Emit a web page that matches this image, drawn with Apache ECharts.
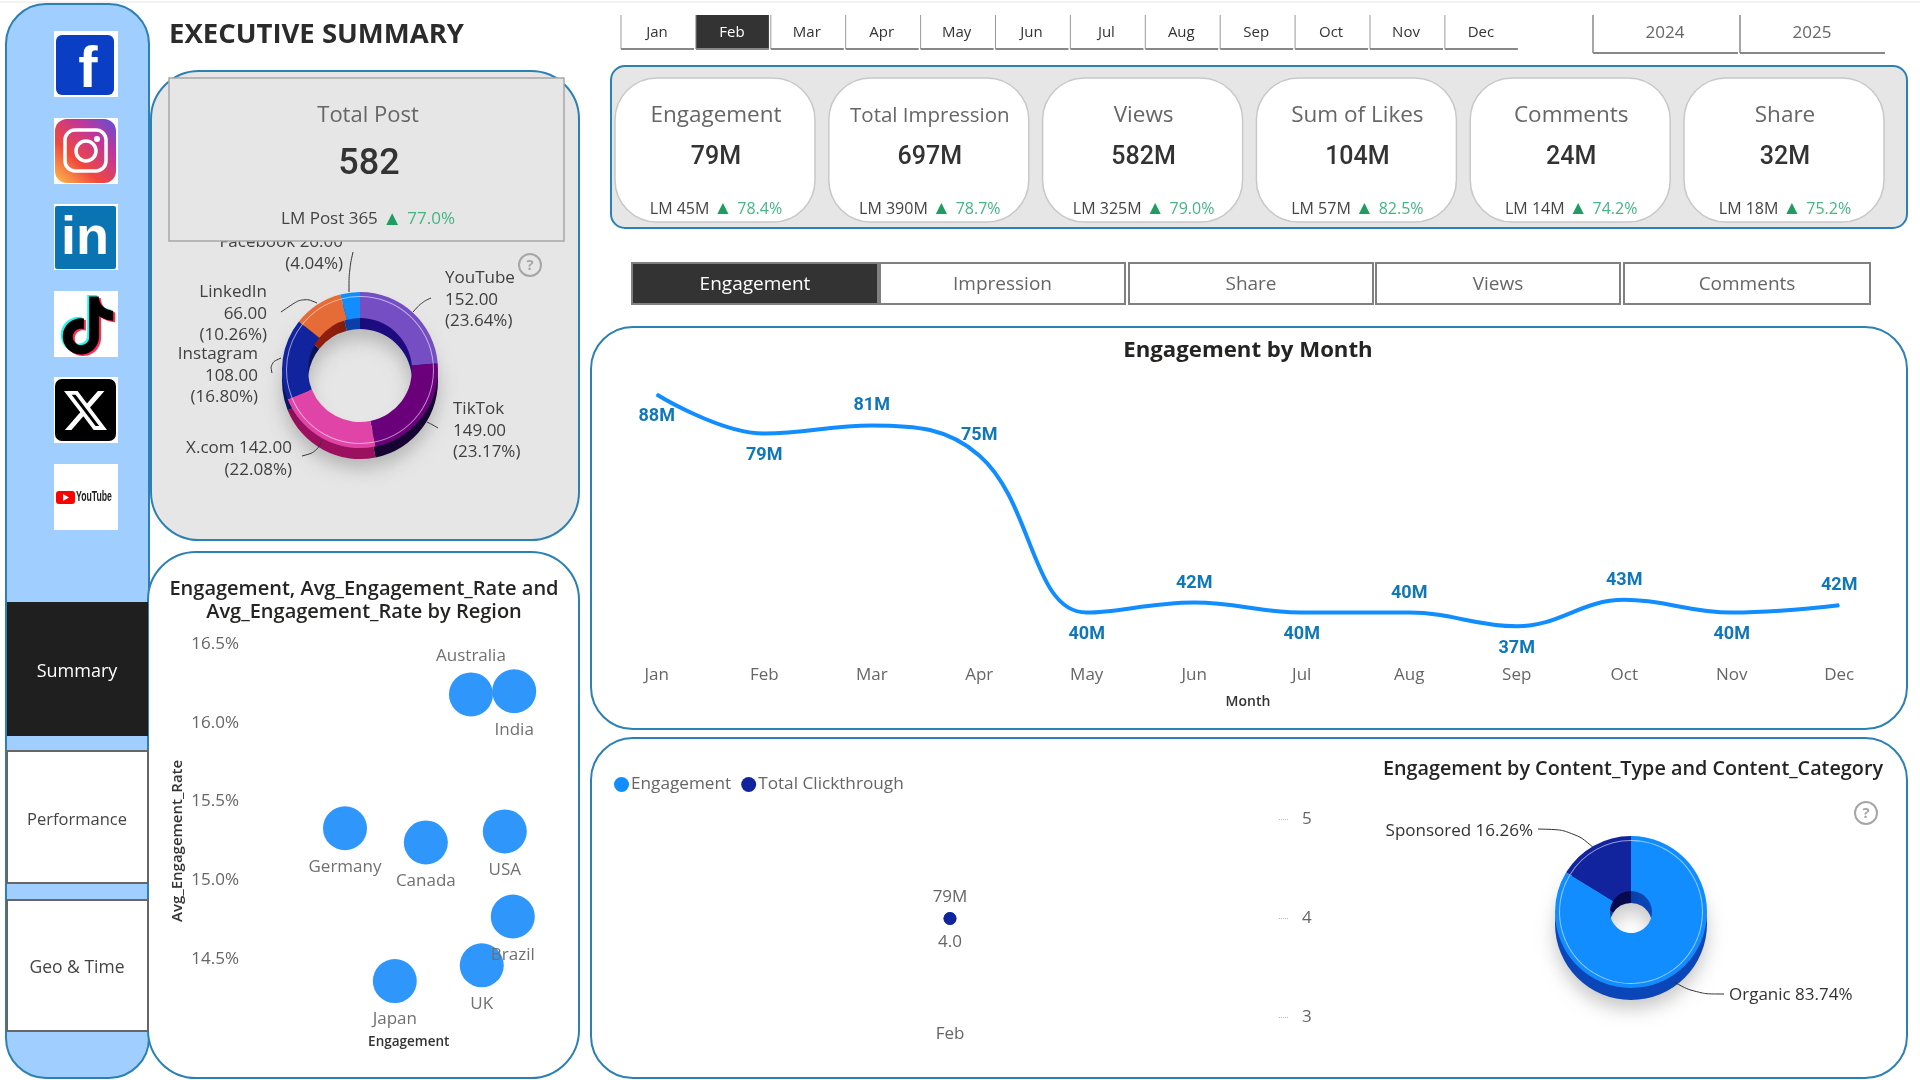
<!DOCTYPE html>
<html><head><meta charset="utf-8">
<style>html,body{margin:0;padding:0;background:#fff}#c{width:1920px;height:1080px}</style>
<script src="https://cdn.jsdelivr.net/npm/echarts@6/dist/echarts.min.js"></script>
</head><body><div id="c"></div>
<script>
// ---- data ----
const months = ['Jan','Feb','Mar','Apr','May','Jun','Jul','Aug','Sep','Oct','Nov','Dec'];
const engagementByMonth = [88,79.4,81.2,74.6,40,42.2,40,40,37,42.8,40,41.6];
const labelSides = ['bottom','bottom','top','top','bottom','top','bottom','top','bottom','top','bottom','top'];
const platforms = ['YouTube','TikTok','X.com','Instagram','LinkedIn','Facebook'];
const platformPosts = [152,149,142,108,66,26];
const regions = ['Australia','India','Germany','Canada','USA','Brazil','UK','Japan'];
const regionEngagement = [9.68,10.6,7.0,8.72,10.4,10.57,9.91,8.06];
const regionRate = [16.18,16.2,15.33,15.24,15.31,14.77,14.46,14.36];
const rateTicks = [14.5,15,15.5,16,16.5];
const contentCategories = ['Organic','Sponsored'];
const contentShare = [83.74,16.26];
const monthOfDetail = ['Feb'];
const detailEngagement = [79];
const detailClickthrough = [4.0];
const kpiNames = ['Engagement','Total Impression','Views','Sum of Likes','Comments','Share'];
const kpiValues = ['79M','697M','582M','104M','24M','32M'];
const kpiLast = ['45M','390M','325M','57M','14M','18M'];
const kpiChange = ['78.4%','78.7%','79.0%','82.5%','74.2%','75.2%'];
const tabs = ['Engagement','Impression','Share','Views','Comments'];
const years = ['2024','2025'];
const navItems = ['Summary','Performance','Geo & Time'];

// ---- styling ----
const SANS = '"Open Sans", "Noto Sans", sans-serif';
const NUM = 'Roboto, "Open Sans", sans-serif';
const BLUE = '#118DFF', PANEL = '#2c80b4', GREY = '#666666', DARK = '#252423';
const platformColors = ['#744EC2','#6B007B','#E044A7','#12239E','#E66C37','#118DFF'];
const platformDepth = ['#1c0c80','#160533','#9c1060','#0a1560','#8f1f0c','#0a3fa8'];
const platformLabelAt = [
  {x:445,y:300,align:'left', line:[[413,312],[422,302],[431,298]]},
  {x:453,y:431,align:'left', line:[[427,422],[433,425],[438,428]]},
  {x:292,y:459,align:'right',line:[[322,440],[317,452],[302,456]]},
  {x:258,y:376,align:'right',line:[[281,358],[270,363],[272,373]]},
  {x:267,y:314,align:'right',line:[[317,303],[303,297],[281,312]]},
  {x:343,y:253,align:'right',line:[[349,292],[349,270],[353,252]]}
];
const contentColors = ['#118DFF','#12239E'];
const contentDepth = ['#0a46b8','#070a4d'];
const contentLabelAt = [
  {x:1729,y:995,align:'left', line:[[1674,982],[1696,994],[1724,994]]},
  {x:1533,y:831,align:'right',line:[[1595,849],[1573,830],[1538,829]]}
];

const TT='M12.525.02c1.31-.02 2.61-.01 3.91-.02.08 1.53.63 3.09 1.75 4.17 1.12 1.11 2.7 1.62 4.24 1.79v4.03c-1.44-.05-2.89-.35-4.2-.97-.57-.26-1.1-.59-1.62-.93-.01 2.92.01 5.84-.02 8.75-.08 1.4-.54 2.79-1.35 3.94-1.31 1.92-3.58 3.17-5.91 3.21-1.43.08-2.86-.31-4.08-1.03-2.02-1.19-3.44-3.37-3.65-5.71-.02-.5-.03-1-.01-1.49.18-1.9 1.12-3.72 2.58-4.96 1.66-1.44 3.98-2.13 6.15-1.72.02 1.48-.04 2.96-.04 4.44-.99-.32-2.15-.23-3.02.37-.63.41-1.11 1.04-1.36 1.75-.21.51-.15 1.07-.14 1.61.24 1.64 1.82 3.02 3.5 2.87 1.12-.01 2.19-.66 2.77-1.61.19-.33.4-.67.41-1.06.1-1.79.06-3.57.07-5.36.01-4.03-.01-8.05.02-12.07z';
const XL='M18.901 1.153h3.68l-8.04 9.19L24 22.846h-7.406l-5.8-7.584-6.638 7.584H.474l8.6-9.83L0 1.154h7.594l5.243 6.932ZM17.61 20.644h2.039L6.486 3.24H4.298Z';
echarts.graphic.registerShape('ttLogo',echarts.graphic.extendPath(TT,{}));
echarts.graphic.registerShape('xLogo',echarts.graphic.extendPath(XL,{}));

const g = [];
const rect = (x,y,w,h,o={}) => g.push({type:'rect',silent:true,z:o.z||0,shape:{x,y,width:w,height:h,r:o.r||0},
  style:{fill:o.fill||'transparent',stroke:o.stroke||null,lineWidth:o.lw===undefined?1:o.lw}});
const line = (x1,y1,x2,y2,color,lw,z) => g.push({type:'line',silent:true,z:z||0,shape:{x1,y1,x2,y2},style:{stroke:color,lineWidth:lw||1}});
const text = (x,y,t,o={}) => g.push({type:'text',silent:true,z:o.z||1,x,y:y+2,scaleX:o.scaleX||1,style:{text:t,fill:o.color||GREY,
  font:(o.weight||'normal')+' '+(o.size||16)+'px '+(o.family||SANS),textAlign:o.align||'center',textVerticalAlign:'middle',rich:o.rich}});
const logo = (type,x,y,size,fill,z) => g.push({type,silent:true,z:z||1,x,y,scaleX:size/24,scaleY:size/24,style:{fill}});
const helpIcon = (x,y) => { g.push({type:'circle',silent:true,z:1,shape:{cx:x,cy:y,r:11},style:{fill:'transparent',stroke:'#a6a6a6',lineWidth:2}});
  text(x,y-1.5,'?',{size:15,color:'#a6a6a6',weight:'bold'}); };

// hairline at the top
line(0,2,1920,2,'#e6e6e6',1);

// sidebar
rect(6,4,143,1074,{r:40,fill:'#a0cfff',stroke:PANEL,lw:2});
const navY = [[602,134],[751,132],[900,131]], navSize=[18,16.5,17.5];
navItems.forEach((n,i)=>{
  rect(7,navY[i][0],141,navY[i][1],{fill:i===0?'#1f1f1f':'#fff',stroke:i===0?null:'#666',lw:i===0?0:2,z:1});
  text(77,navY[i][0]+navY[i][1]/2+1,n,{size:navSize[i],color:i===0?'#fff':'#444',z:2});
});

// social icons
const iconX=54,iconW=64,iconH=66,iconY=[31,118,204,291,377,464];
iconY.forEach(y=>rect(iconX,y,iconW,iconH,{fill:'#fff'}));
rect(56,35,58,60,{r:6,fill:'#0a3fc5'});
text(88,69,'f',{size:58,weight:'bold',color:'#fff',family:'"Liberation Sans",sans-serif',z:2});
g.push({type:'rect',silent:true,z:1,shape:{x:55,y:119,width:61,height:64,r:12},style:{fill:new echarts.graphic.LinearGradient(0,1,1,0,[{offset:0,color:'#fdc04a'},{offset:.35,color:'#f0483e'},{offset:.7,color:'#c1359c'},{offset:1,color:'#5b51d8'}])}});
rect(65,130,41,41,{r:10,stroke:'#fff',lw:3.5,z:2});
g.push({type:'circle',silent:true,z:2,shape:{cx:86,cy:151,r:10},style:{fill:'transparent',stroke:'#fff',lineWidth:3.5}});
g.push({type:'circle',silent:true,z:2,shape:{cx:97,cy:139,r:3},style:{fill:'#fff'}});
rect(55,206,61,63,{fill:'#0a74b3',r:2});
text(85,237,'in',{size:54,weight:'bold',color:'#fff',family:'"Liberation Sans",sans-serif',z:2});
logo('ttLogo',57,295,58,'#25f4ee',2); logo('ttLogo',61,298,58,'#fe2c55',2); logo('ttLogo',59,296.5,58,'#000',3);
rect(55,379,61,62,{r:7,fill:'#000'});
logo('xLogo',64,389,43,'#fff',2);
rect(56,491,19,13,{r:3,fill:'#ff0000',z:1});
g.push({type:'polygon',silent:true,z:2,shape:{points:[[63,494],[63,501],[69,497.5]]},style:{fill:'#fff'}});
text(76,495.5,'YouTube',{size:14,weight:'bold',color:'#222',align:'left',scaleX:.62,family:'"Liberation Sans",sans-serif',z:2});

// heading
text(169,33.5,'EXECUTIVE SUMMARY',{size:27.5,weight:'bold',color:'#2b2b2b',align:'left'});

// month slicer
months.forEach((m,i)=>{
  const x=621+i*74.9, w=73;
  if(m==='Feb') rect(x,15,w,34,{fill:'#333'});
  line(x,15,x,49,'#999',1); line(x,49,x+w,49,'#888',2);
  text(x+36,31,m,{size:15,color:m==='Feb'?'#fff':'#333'});
});
// year slicer
years.forEach((y,i)=>{
  const x=1593+i*147, w=145;
  line(x,15,x,53,'#888',1.5); line(x,53,x+w,53,'#888',2);
  text(x+72,31,y,{size:17,color:GREY});
});

// KPI strip
rect(611,66,1296,162,{r:14,fill:'#e6e6e6',stroke:PANEL,lw:2});
kpiNames.forEach((n,i)=>{
  const x=615+i*213.8, c=x+101;
  rect(x,78,200,144,{r:42,fill:'#fff',stroke:'#c8c8c8',lw:1.5,z:1});
  text(c,114,n,{size:i===1?20.5:22.5,color:GREY,z:2});
  text(c,156,kpiValues[i],{size:25,weight:'500',color:'#333',family:NUM,z:2});
  text(c,207,'{a|LM '+kpiLast[i]+' }{t|▲ }{b|'+kpiChange[i]+'}',{z:2,size:16,
    rich:{a:{fill:'#444',font:'16px '+SANS},t:{fill:'#1f9d61',font:'19px '+SANS},b:{fill:'#45b582',font:'16px '+SANS}}});
});

// tabs
const tabX=[632,880,1129,1376,1624], tabW=[246,245,244,244,246];
tabs.forEach((t,i)=>{
  rect(tabX[i],263,tabW[i],41,{fill:i===0?'#333':'#fff',stroke:'#808080',lw:2});
  text(tabX[i]+tabW[i]/2,282.5,t,{size:19,color:i===0?'#fff':GREY});
});

// panels
rect(151,71,428,469,{r:48,fill:'#e6e6e6',stroke:PANEL,lw:2});
rect(148,552,431,526,{r:48,fill:'#fff',stroke:PANEL,lw:2});
rect(591,327,1316,402,{r:42,fill:'#fff',stroke:PANEL,lw:2});
rect(591,738,1316,340,{r:42,fill:'#fff',stroke:PANEL,lw:2});

// Total Post card sits above the ring labels and cuts the first one
rect(169,78,395,163,{fill:'#e6e6e6',stroke:'#a8a8a8',lw:1.5,z:100});
text(368,114,'Total Post',{size:22,color:GREY,z:101});
text(369,163,'582',{size:36,weight:'500',color:'#333',family:NUM,z:101});
text(368,217,'{a|LM Post 365 }{t|▲ }{b|77.0%}',{z:101,size:17,
  rich:{a:{fill:'#444',font:'17px '+SANS},t:{fill:'#1f9d61',font:'20px '+SANS},b:{fill:'#45b582',font:'17px '+SANS}}});
helpIcon(530,265);
helpIcon(1866,813);

const postData = platforms.map((n,i)=>({name:n,value:platformPosts[i]}));
const postTotal = platformPosts.reduce((a,b)=>a+b,0);
const contentData = contentCategories.map((n,i)=>({name:n,value:contentShare[i]}));
const labelAt = table => p => { const a=table[p.dataIndex]; return {x:a.x,y:a.y,align:a.align,verticalAlign:'middle',labelLinePoints:a.line}; };
const depthPie = (data,colors,cx,cy,r) => ({type:'pie',silent:true,z:2,center:[cx,cy],radius:r,startAngle:90,animation:false,
  label:{show:false},labelLine:{show:false},itemStyle:{shadowBlur:18,shadowOffsetY:9,shadowColor:'rgba(0,0,0,.22)'},
  data:data.map((d,i)=>({...d,itemStyle:{color:colors[i]}}))});
const hairPie = (data,cx,cy,r) => ({type:'pie',silent:true,z:4,center:[cx,cy],radius:r,startAngle:90,animation:false,
  label:{show:false},labelLine:{show:false},itemStyle:{color:'rgba(255,255,255,.55)'},data});
const isTwoLine = n => n==='Facebook'||n==='X.com';

const option = {
  animation:false,
  backgroundColor:'#fff',
  graphic:{elements:g},
  title:[
    {text:'Engagement, Avg_Engagement_Rate and\nAvg_Engagement_Rate by Region',left:364,top:578,padding:0,textAlign:'center',
      textStyle:{fontFamily:SANS,fontSize:20,fontWeight:600,color:DARK,lineHeight:23}},
    {text:'Engagement by Month',left:1248,top:340,padding:0,textAlign:'center',
      textStyle:{fontFamily:SANS,fontSize:22.2,fontWeight:'bold',color:DARK}},
    {text:'Engagement by Content_Type and Content_Category',left:1883,top:759,padding:0,textAlign:'right',
      textStyle:{fontFamily:SANS,fontSize:19.8,fontWeight:600,color:DARK}}
  ],
  legend:{data:['Engagement','Total Clickthrough'],left:609,top:771,icon:'circle',itemWidth:15,itemHeight:15,itemGap:10,
    textStyle:{fontFamily:SANS,fontSize:17.2,color:GREY,padding:[0,0,0,-3]}},
  grid:[
    {left:251,top:644,width:305.5,height:393.75},
    {left:603,top:340,width:1290,height:318},
    {left:612,top:819.5,width:676,height:198}
  ],
  xAxis:[
    {gridIndex:0,type:'value',min:5,max:11.5,axisLine:{show:false},axisTick:{show:false},axisLabel:{show:false},splitLine:{show:false},
      name:'Engagement',nameLocation:'middle',nameGap:-3,nameTextStyle:{fontFamily:SANS,fontSize:13.5,fontWeight:600,color:'#333',padding:[0,0,0,10]}},
    {gridIndex:1,type:'category',data:months,boundaryGap:true,axisLine:{show:false},axisTick:{show:false},
      axisLabel:{fontFamily:SANS,fontSize:17,color:GREY,margin:9},
      name:'Month',nameLocation:'middle',nameGap:37,nameTextStyle:{fontFamily:SANS,fontSize:14,fontWeight:600,color:'#333'}},
    {gridIndex:2,type:'category',data:monthOfDetail,axisLine:{show:false},axisTick:{show:false},
      axisLabel:{fontFamily:SANS,fontSize:17,color:GREY,margin:8}}
  ],
  yAxis:[
    {gridIndex:0,type:'value',min:14,max:16.5,interval:.5,axisLine:{show:false},axisTick:{show:false},splitLine:{show:false},
      axisLabel:{fontFamily:SANS,fontSize:17,color:GREY,margin:12,formatter:v=>rateTicks.includes(v)?v.toFixed(1)+'%':''},
      name:'Avg_Engagement_Rate',nameLocation:'middle',nameGap:66,nameRotate:90,nameTextStyle:{fontFamily:SANS,fontSize:15,fontWeight:600,color:'#333'}},
    {gridIndex:1,type:'value',min:30,max:100,show:false,splitLine:{show:false}},
    {gridIndex:2,type:'value',position:'right',min:3,max:5,interval:1,axisLine:{show:false},splitLine:{show:false},
      axisTick:{show:true,inside:true,length:10,lineStyle:{type:'dotted',color:'#bdbdbd'}},
      axisLabel:{fontFamily:SANS,fontSize:17,color:GREY,margin:14}},
    {gridIndex:2,type:'value',min:0,max:158,show:false,splitLine:{show:false}}
  ],
  series:[
    depthPie(postData,platformDepth,360,381,[52,78]),
    {type:'pie',z:3,name:'Total Post',center:[360,370],radius:[52,78],startAngle:90,animation:false,
      data:postData.map((d,i)=>({...d,itemStyle:{color:platformColors[i]}})),
      label:{show:true,position:'outside',fontFamily:SANS,fontSize:17,lineHeight:21.5,color:'#404040',
        formatter:p=>p.name+(isTwoLine(p.name)?' ':'\n')+p.value.toFixed(2)+'\n('+(p.value/postTotal*100).toFixed(2)+'%)'},
      labelLine:{show:true,smooth:.4,lineStyle:{color:'#333',width:1}},
      labelLayout:labelAt(platformLabelAt)},
    hairPie(postData,360,370,[73,74]),

    {type:'scatter',xAxisIndex:0,yAxisIndex:0,name:'Region',symbolSize:44,itemStyle:{color:'#2f97fb',opacity:1},clip:false,
      data:regions.map((r,i)=>({name:r,value:[regionEngagement[i],regionRate[i]],label:{position:r==='Australia'?'top':'bottom'}})),
      label:{show:true,formatter:'{b}',fontFamily:SANS,fontSize:17,color:'#707070',distance:8}},

    {type:'line',xAxisIndex:1,yAxisIndex:1,name:'Engagement by Month',data:engagementByMonth.map((v,i)=>({value:v,label:{position:labelSides[i],distance:labelSides[i]==='bottom'?12.5:10}})),
      smooth:.4,symbol:'circle',symbolSize:1,lineStyle:{color:BLUE,width:4},itemStyle:{color:BLUE},
      label:{show:true,formatter:p=>Math.round(p.value)+'M',fontFamily:NUM,fontSize:18,fontWeight:'bold',color:'#1077b8'}},

    {type:'scatter',xAxisIndex:2,yAxisIndex:3,name:'Engagement',data:detailEngagement,symbolSize:13,itemStyle:{color:BLUE,opacity:1},
      label:{show:true,position:'top',distance:6,formatter:p=>p.value+'M',fontFamily:SANS,fontSize:17,color:GREY}},
    {type:'scatter',xAxisIndex:2,yAxisIndex:2,name:'Total Clickthrough',data:detailClickthrough,symbolSize:13,itemStyle:{color:'#12239E',opacity:1},
      label:{show:true,position:'bottom',distance:9,formatter:p=>p.value.toFixed(1),fontFamily:SANS,fontSize:17,color:GREY}},

    depthPie(contentData,contentDepth,1631,924,[21,76]),
    {type:'pie',z:3,name:'Content',center:[1631,912],radius:[21,76],startAngle:90,percentPrecision:2,animation:false,
      data:contentData.map((d,i)=>({...d,itemStyle:{color:contentColors[i]}})),
      label:{show:true,position:'outside',fontFamily:SANS,fontSize:17,color:'#333',formatter:p=>p.name+' '+p.percent.toFixed(2)+'%'},
      labelLine:{show:true,smooth:.4,lineStyle:{color:'#333',width:1}},
      labelLayout:labelAt(contentLabelAt)},
    hairPie(contentData,1631,912,[71,72])
  ]
};
echarts.init(document.getElementById('c'),null,{renderer:'canvas'}).setOption(option);
</script></body></html>
